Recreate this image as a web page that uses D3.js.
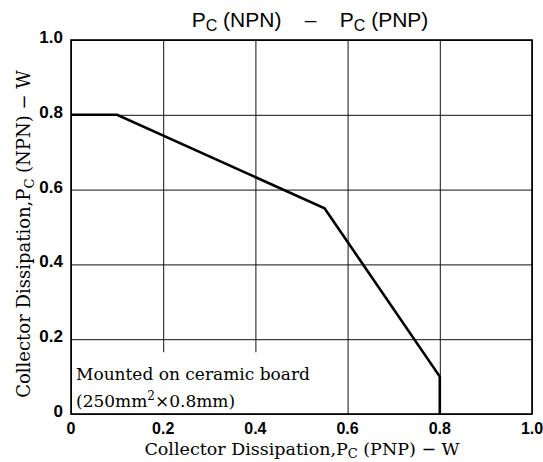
<!DOCTYPE html>
<html>
<head>
<meta charset="utf-8">
<script src="https://cdn.jsdelivr.net/npm/d3@7"></script>
<style>
  body { margin: 0; background: #fff; }
  svg { display: block; }
  text { white-space: pre; }
</style>
</head>
<body>
<div id="chart"></div>
<script>
// values
const pcPNP = [0, 0.1, 0.55, 0.8, 0.8]
const pcNPN = [0.8, 0.8, 0.55, 0.1, 0]
const xTicks = [0, 0.2, 0.4, 0.6, 0.8, 1.0]
const yTicks = [0, 0.2, 0.4, 0.6, 0.8, 1.0]
const xTickLabels = ['0', '0.2', '0.4', '0.6', '0.8', '1.0']
const yTickLabels = ['0', '0.2', '0.4', '0.6', '0.8', '1.0']
const noteLines = ['Mounted on ceramic board', '(250mm', '2', '\u00d70.8mm)']

const width = 543
const height = 462
const margin = { top: 40, right: 11, bottom: 48, left: 71 }
const w = width - margin.left - margin.right
const h = height - margin.top - margin.bottom

const serif = '"DejaVu Serif", "Liberation Serif", serif'
const sans = '"Liberation Sans", Arial, sans-serif'

const svg = d3.select('#chart')
    .append('svg')
    .attr('width', width)
    .attr('height', height)

const g = svg.append('g')
    .attr('transform', `translate(${margin.left}, ${margin.top})`)

const x = d3.scaleLinear().domain([0, 1]).range([0, w])
const y = d3.scaleLinear().domain([0, 1]).range([h, 0])

// grid
g.append('g')
    .attr('transform', `translate(0, ${h})`)
    .call(d3.axisBottom(x).tickValues(xTicks).tickSize(-h).tickFormat(''))
    .call(a => a.select('.domain').remove())
    .selectAll('line').attr('stroke', '#111').attr('stroke-width', 1)

g.append('g')
    .call(d3.axisLeft(y).tickValues(yTicks).tickSize(-w).tickFormat(''))
    .call(a => a.select('.domain').remove())
    .selectAll('line').attr('stroke', '#111').attr('stroke-width', 1)

// white box behind the note hides the grid
g.append('rect')
    .attr('x', 1)
    .attr('y', y(0.165))
    .attr('width', x(0.55) - 1)
    .attr('height', h - y(0.165) - 1)
    .attr('fill', '#fff')

// frame
g.append('rect')
    .attr('width', w)
    .attr('height', h)
    .attr('fill', 'none')
    .attr('stroke', '#000')
    .attr('stroke-width', 1.6)

// tick labels
g.selectAll('.xl')
    .data(xTicks)
    .join('text')
    .attr('x', d => x(d))
    .attr('y', h + 20)
    .attr('text-anchor', 'middle')
    .style('font-family', sans)
    .style('font-weight', 'bold')
    .style('font-size', '16px')
    .text((d, i) => xTickLabels[i])

g.selectAll('.yl')
    .data(yTicks)
    .join('text')
    .attr('x', -8)
    .attr('y', d => y(d) + 3)
    .attr('text-anchor', 'end')
    .style('font-family', sans)
    .style('font-weight', 'bold')
    .style('font-size', '17px')
    .text((d, i) => yTickLabels[i])

// curve
g.append('path')
    .datum(pcPNP.map((d, i) => [d, pcNPN[i]]))
    .attr('fill', 'none')
    .attr('stroke', '#000')
    .attr('stroke-width', 2.6)
    .attr('stroke-linejoin', 'miter')
    .attr('d', d3.line().x(d => x(d[0])).y(d => y(d[1])))

// note
const note = g.append('g')
    .style('font-family', serif)
    .style('font-size', '17px')
    .attr('fill', '#000')

note.append('text')
    .attr('x', 5)
    .attr('y', y(0.092))
    .text(noteLines[0])

const n2 = note.append('text')
    .attr('x', 5)
    .attr('y', y(0.02))
n2.append('tspan').text(noteLines[1])
n2.append('tspan').attr('dy', -7).style('font-size', '12px').text(noteLines[2])
n2.append('tspan').attr('dy', 7).text(noteLines[3])

// axis titles
const xt = svg.append('text')
    .attr('x', 302)
    .attr('y', 455)
    .attr('text-anchor', 'middle')
    .style('font-family', serif)
    .style('font-size', '17.5px')
xt.append('tspan').text('Collector Dissipation,P')
xt.append('tspan').attr('dy', 3).style('font-size', '13px').text('C')
xt.append('tspan').attr('dy', -3).text(' (PNP) \u2212 W')

const yt = svg.append('text')
    .attr('transform', `translate(30, 234) rotate(-90)`)
    .attr('text-anchor', 'middle')
    .style('font-family', serif)
    .style('font-size', '18px')
yt.append('tspan').text('Collector Dissipation,P')
yt.append('tspan').attr('dy', 4).style('font-size', '13px').text('C')
yt.append('tspan').attr('dy', -4).text(' (NPN) \u2212 W')

// chart title
const tt = svg.append('text')
    .attr('x', 310)
    .attr('y', 27)
    .attr('text-anchor', 'middle')
    .style('font-family', sans)
    .style('font-size', '21px')
tt.append('tspan').text('P')
tt.append('tspan').attr('dy', 4).style('font-size', '16px').text('C')
tt.append('tspan').attr('dy', -4).text(' (NPN)    \u2013    P')
tt.append('tspan').attr('dy', 4).style('font-size', '16px').text('C')
tt.append('tspan').attr('dy', -4).text(' (PNP)')
</script>
</body>
</html>
